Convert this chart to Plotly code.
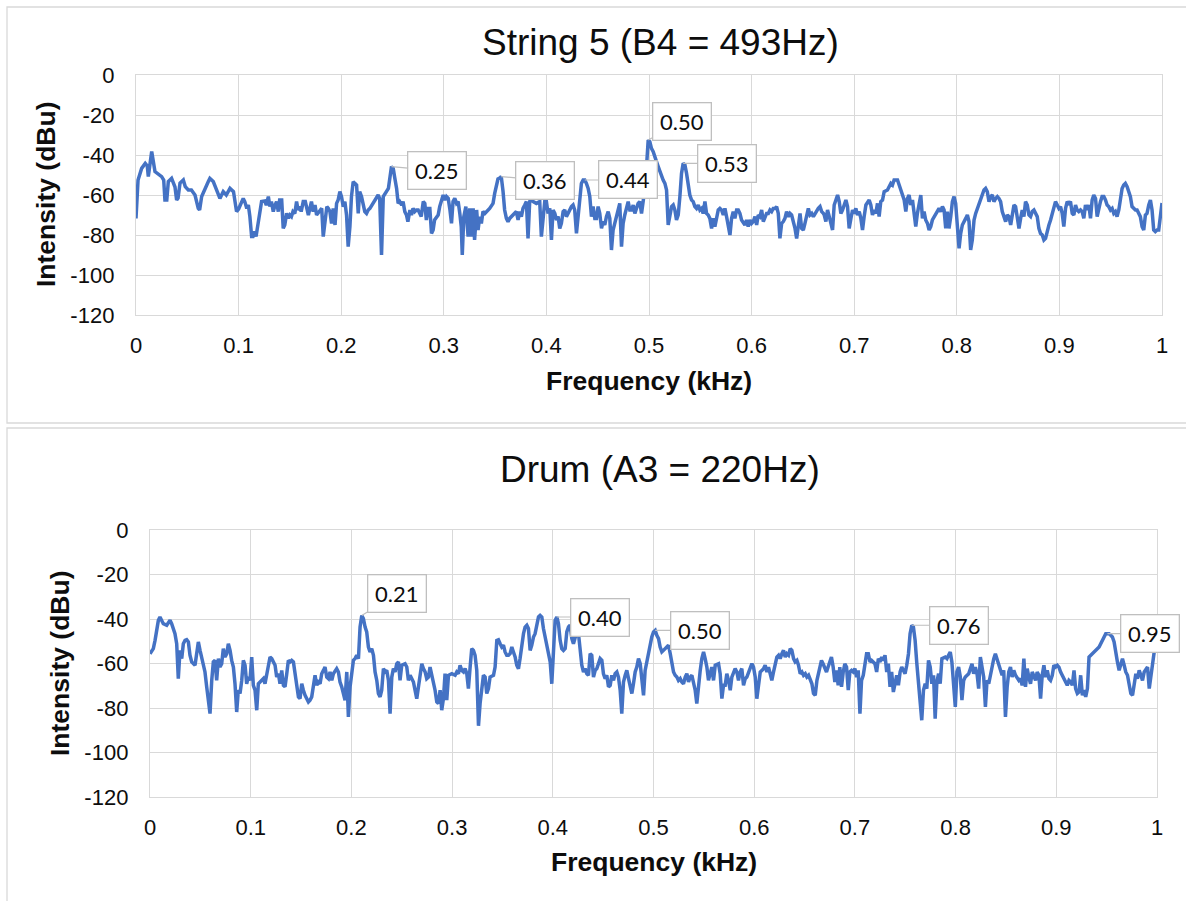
import plotly.graph_objects as go

# ---------------- String 5 spectrum (frequency in kHz, level in dBu) ----------------
string5_freq = [
    0.000, 0.002, 0.0055, 0.009, 0.011, 0.012, 0.0153, 0.0185, 0.025, 0.027,
    0.0282, 0.030, 0.0315, 0.0347, 0.038, 0.0396, 0.041, 0.0429, 0.0461, 0.048,
    0.051, 0.054, 0.0575, 0.0607, 0.062, 0.064, 0.0705, 0.072, 0.0753, 0.079,
    0.0818, 0.085, 0.088, 0.0916, 0.095, 0.098, 0.100, 0.1045, 0.106, 0.108,
    0.1095, 0.111, 0.1127, 0.114, 0.1155, 0.117, 0.1205, 0.1224, 0.1255, 0.127,
    0.129, 0.1305, 0.132, 0.1338, 0.1355, 0.137, 0.1387, 0.140, 0.142, 0.1435,
    0.145, 0.1468, 0.1485, 0.150, 0.1515, 0.153, 0.1548, 0.1565, 0.158, 0.160,
    0.161, 0.163, 0.165, 0.168, 0.1695, 0.171, 0.1727, 0.1745, 0.176, 0.1775,
    0.179, 0.181, 0.1825, 0.184, 0.186, 0.1875, 0.189, 0.1906, 0.1922, 0.194,
    0.1955, 0.197, 0.1987, 0.2003, 0.202, 0.2036, 0.2052, 0.2068, 0.2085, 0.210,
    0.2117, 0.2133, 0.215, 0.2166, 0.218, 0.2198, 0.2214, 0.223, 0.2247, 0.2263,
    0.228, 0.231, 0.2345, 0.236, 0.2375, 0.2393, 0.241, 0.2427, 0.246, 0.249,
    0.2507, 0.252, 0.254, 0.2555, 0.257, 0.259, 0.2603, 0.262, 0.2636, 0.265,
    0.267, 0.2685, 0.270, 0.2717, 0.2733, 0.275, 0.2766, 0.278, 0.280, 0.2815,
    0.283, 0.2847, 0.2864, 0.288, 0.2896, 0.291, 0.2945, 0.296, 0.2994, 0.301,
    0.3026, 0.3043, 0.306, 0.3075, 0.309, 0.3107, 0.3124, 0.314, 0.3156, 0.317,
    0.318, 0.3195, 0.3215, 0.3237, 0.3253, 0.327, 0.3286, 0.330, 0.332, 0.3334,
    0.335, 0.3366, 0.3382, 0.340, 0.3447, 0.348, 0.3496, 0.3512, 0.3528, 0.3545,
    0.356, 0.3577, 0.3593, 0.361, 0.3626, 0.3642, 0.3675, 0.3707, 0.3724, 0.374,
    0.3756, 0.3772, 0.3789, 0.3805, 0.3821, 0.3837, 0.3854, 0.387, 0.3902, 0.3935,
    0.3951, 0.3967, 0.3984, 0.400, 0.4016, 0.4033, 0.4049, 0.4065, 0.4082, 0.4098,
    0.4114, 0.413, 0.4146, 0.4163, 0.4179, 0.4195, 0.4211, 0.4228, 0.4244, 0.426,
    0.4276, 0.4293, 0.4309, 0.4325, 0.4341, 0.4358, 0.4374, 0.439, 0.4407, 0.4423,
    0.4439, 0.4455, 0.4472, 0.4488, 0.4504, 0.452, 0.4537, 0.4553, 0.4569, 0.4585,
    0.4602, 0.4618, 0.4634, 0.465, 0.4667, 0.4683, 0.4699, 0.4715, 0.4732, 0.4748,
    0.4764, 0.478, 0.4797, 0.4813, 0.483, 0.4846, 0.4862, 0.4878, 0.4894, 0.491,
    0.4927, 0.4943, 0.4959, 0.4976, 0.4992, 0.5008, 0.5024, 0.5041, 0.5057, 0.5073,
    0.509, 0.5106, 0.5122, 0.5138, 0.5155, 0.5171, 0.5187, 0.5203, 0.522, 0.5236,
    0.5252, 0.5268, 0.5285, 0.5301, 0.5317, 0.5333, 0.535, 0.5366, 0.5382, 0.5398,
    0.5415, 0.5431, 0.5447, 0.5463, 0.548, 0.5496, 0.5512, 0.5528, 0.5545, 0.5561,
    0.5577, 0.5593, 0.561, 0.5626, 0.5642, 0.5659, 0.5675, 0.5691, 0.5707, 0.5724,
    0.574, 0.5756, 0.5772, 0.5789, 0.5805, 0.5821, 0.5837, 0.5854, 0.587, 0.5886,
    0.5902, 0.5919, 0.5935, 0.5951, 0.5967, 0.5984, 0.600, 0.6016, 0.6033, 0.6049,
    0.6065, 0.6081, 0.6098, 0.6114, 0.613, 0.6146, 0.6163, 0.6179, 0.6195, 0.6211,
    0.6228, 0.6244, 0.626, 0.6276, 0.6293, 0.6309, 0.6325, 0.6341, 0.6358, 0.6374,
    0.639, 0.6407, 0.6423, 0.6439, 0.6455, 0.6472, 0.6488, 0.6504, 0.652, 0.6537,
    0.6553, 0.6569, 0.6586, 0.6602, 0.6618, 0.6634, 0.665, 0.6667, 0.6683, 0.6699,
    0.6708, 0.6724, 0.6740, 0.6757, 0.6789, 0.6805, 0.6838, 0.6854, 0.6870, 0.6886,
    0.6919, 0.6935, 0.6951, 0.6968, 0.6984, 0.7000, 0.7016, 0.7032, 0.7049, 0.7065,
    0.7081, 0.7097, 0.7114, 0.7146, 0.7162, 0.7178, 0.7195, 0.7211, 0.7227, 0.7243,
    0.7259, 0.7276, 0.7292, 0.7324, 0.7341, 0.7357, 0.7373, 0.7389, 0.7422, 0.7438,
    0.7454, 0.7470, 0.7487, 0.7503, 0.7519, 0.7535, 0.7551, 0.7568, 0.7584, 0.7600,
    0.7616, 0.7632, 0.7649, 0.7665, 0.7681, 0.7697, 0.7714, 0.7730, 0.7746, 0.7762,
    0.7795, 0.7827, 0.7843, 0.7860, 0.7876, 0.7892, 0.7908, 0.7924, 0.7941, 0.7957,
    0.7973, 0.7989, 0.8006, 0.8022, 0.8038, 0.8054, 0.8087, 0.8103, 0.8119, 0.8135,
    0.8151, 0.8168, 0.8184, 0.8216, 0.8249, 0.8265, 0.8281, 0.8297, 0.8314, 0.8330,
    0.8346, 0.8362, 0.8379, 0.8395, 0.8411, 0.8427, 0.8443, 0.8460, 0.8476, 0.8492,
    0.8508, 0.8525, 0.8541, 0.8557, 0.8573, 0.8589, 0.8606, 0.8622, 0.8638, 0.8654,
    0.8670, 0.8687, 0.8703, 0.8719, 0.8735, 0.8752, 0.8768, 0.8784, 0.8800, 0.8816,
    0.8833, 0.8849, 0.8865, 0.8881, 0.8898, 0.8914, 0.8930, 0.8946, 0.8962, 0.8979,
    0.8995, 0.9011, 0.9027, 0.9043, 0.9060, 0.9076, 0.9092, 0.9108, 0.9125, 0.9141,
    0.9157, 0.9173, 0.9189, 0.9206, 0.9222, 0.9238, 0.9254, 0.9271, 0.9287, 0.9303,
    0.9319, 0.9335, 0.9352, 0.9368, 0.9384, 0.9400, 0.9416, 0.9433, 0.9449, 0.9465,
    0.9481, 0.9498, 0.9514, 0.9530, 0.9546, 0.9562, 0.9579, 0.9595, 0.9611, 0.9627,
    0.9643, 0.9660, 0.9676, 0.9692, 0.9708, 0.9725, 0.9741, 0.9757, 0.9773, 0.9789,
    0.9806, 0.9822, 0.9838, 0.9854, 0.9871, 0.9887, 0.9903, 0.9919, 0.9935, 0.9952,
    0.9968, 0.9984, 1.0000,
]
string5_dbu = [
    -71.7, -52.5, -46.7, -44.2, -45.5, -50.8, -38.3, -48.3, -50.8, -52.5,
    -62.5, -62.5, -53.3, -51.7, -56.0, -62.5, -61.5, -54.0, -52.5, -55.8,
    -57.5, -57.5, -60.0, -66.7, -67.5, -60.8, -53.3, -51.7, -53.3, -57.5,
    -61.7, -58.3, -60.0, -56.7, -58.3, -68.3, -67.0, -61.7, -63.3, -66.7,
    -65.0, -70.8, -80.8, -80.8, -78.3, -80.8, -69.0, -63.3, -63.0, -65.0,
    -60.8, -65.8, -63.3, -68.3, -65.0, -63.3, -68.3, -62.5, -62.5, -76.7,
    -75.0, -69.2, -71.7, -70.0, -70.8, -68.3, -69.2, -63.3, -67.5, -65.8,
    -68.3, -63.3, -63.3, -70.0, -66.7, -63.3, -68.3, -65.0, -70.0, -69.2,
    -68.3, -66.7, -80.8, -72.5, -65.8, -66.7, -68.3, -74.2, -66.7, -75.0,
    -64.2, -62.5, -58.3, -60.8, -65.8, -63.3, -70.0, -85.8, -75.8, -60.8,
    -53.3, -54.2, -55.0, -69.2, -58.3, -60.8, -65.0, -68.3, -69.2, -67.5,
    -66.7, -64.2, -60.8, -60.0, -61.7, -90.0, -60.8, -59.2, -56.7, -45.8,
    -46.7, -50.8, -56.7, -64.2, -63.3, -65.0, -63.3, -68.3, -70.0, -73.3,
    -67.5, -70.0, -66.7, -68.3, -67.5, -67.5, -70.0, -70.8, -63.3, -64.2,
    -72.5, -66.7, -66.7, -79.2, -77.5, -72.5, -70.0, -65.8, -60.0, -62.5,
    -60.8, -61.7, -67.5, -74.2, -63.3, -61.7, -64.2, -63.3, -69.2, -75.8,
    -90.0, -70.8, -65.8, -80.8, -66.7, -80.8, -66.7, -82.5, -67.5, -77.5,
    -70.8, -74.2, -68.3, -69.2, -66.7, -64.2, -59.2, -55.0, -52.0, -51.5,
    -50.8, -58.0, -67.5, -71.7, -73.3, -71.7, -70.0, -68.3, -72.5, -68.3,
    -70.8, -66.7, -65.0, -63.3, -81.7, -63.3, -61.0, -63.3, -64.2, -63.3,
    -80.8, -72.5, -63.3, -63.3, -69.2, -66.7, -82.5, -67.5, -69.2, -72.5,
    -70.8, -76.7, -74.2, -68.3, -67.5, -70.8, -69.2, -66.7, -65.8, -65.0,
    -67.5, -79.2, -69.2, -59.2, -54.2, -52.5, -52.5, -54.2, -56.7, -60.8,
    -70.8, -65.8, -71.7, -71.7, -65.8, -69.2, -76.7, -73.3, -75.0, -70.8,
    -68.3, -71.7, -87.5, -77.5, -74.2, -70.8, -68.3, -64.2, -85.8, -74.2,
    -70.0, -66.7, -63.3, -67.5, -67.5, -65.0, -69.2, -66.7, -64.2, -63.3,
    -69.2, -63.3, -56.7, -45.8, -32.5, -33.3, -36.7, -38.3, -41.7, -43.3,
    -45.8, -48.3, -50.8, -52.5, -54.2, -57.5, -75.0, -70.0, -65.8, -65.0,
    -67.5, -72.5, -70.0, -60.8, -49.2, -44.2, -45.0, -49.2, -54.2, -60.0,
    -62.5, -63.3, -65.8, -66.7, -65.0, -67.5, -66.7, -69.2, -63.3, -69.2,
    -70.0, -71.7, -76.7, -71.7, -75.8, -70.8, -67.5, -66.7, -67.5, -70.0,
    -66.7, -70.8, -75.0, -80.0, -71.7, -68.3, -71.7, -67.5, -67.5, -69.2,
    -72.5, -74.2, -75.0, -72.5, -75.8, -72.5, -74.2, -73.3, -70.8, -75.0,
    -70.0, -70.8, -67.5, -73.3, -70.8, -69.2, -69.2, -67.5, -68.3, -66.7,
    -66.7, -65.8, -69.2, -81.7, -74.2, -73.3, -71.7, -68.3, -70.8, -69.2,
    -70.0, -73.3, -76.7, -81.7, -74.2, -69.2, -76.7, -77.5, -74.2, -69.2,
    -66.7, -70.0, -69.2, -70.8, -69.2, -68.3, -66.7, -65.8, -68.3, -69.2,
    -70.0, -73.3, -67.5, -70.8, -77.5, -65.0, -60.0, -63.3, -69.2, -67.5,
    -62.5, -65.8, -76.7, -71.7, -67.5, -69.2, -66.7, -70.0, -68.3, -71.7,
    -77.5, -70.8, -65.0, -62.5, -65.0, -70.0, -67.5, -69.2, -64.2, -70.8,
    -63.3, -62.5, -58.3, -57.5, -55.8, -54.2, -55.0, -52.5, -52.5, -55.0,
    -58.3, -60.8, -62.5, -68.3, -61.7, -60.0, -65.0, -62.5, -69.2, -75.8,
    -69.2, -63.3, -60.0, -71.7, -68.3, -72.5, -74.2, -77.5, -75.8, -72.5,
    -69.2, -66.7, -68.3, -65.8, -67.5, -76.7, -68.3, -76.7, -70.8, -63.3,
    -60.8, -64.2, -75.8, -86.7, -79.2, -75.0, -71.7, -70.0, -73.3, -87.5,
    -82.5, -72.5, -69.2, -64.2, -60.0, -57.5, -56.7, -58.3, -63.3, -60.8,
    -60.0, -63.3, -61.7, -60.8, -61.7, -63.3, -68.3, -70.8, -73.3, -70.0,
    -70.8, -75.0, -68.3, -65.0, -65.8, -70.0, -76.7, -71.7, -67.5, -70.8,
    -63.3, -65.0, -70.0, -70.8, -68.3, -67.5, -69.2, -70.8, -76.7, -79.2,
    -80.0, -82.5, -81.7, -77.5, -75.0, -72.5, -69.2, -65.0, -63.3, -65.0,
    -66.7, -65.8, -69.2, -75.8, -66.7, -63.3, -64.2, -63.3, -69.2, -70.0,
    -65.0, -67.5, -68.3, -67.5, -68.3, -71.7, -65.0, -67.5, -65.0, -71.7,
    -62.5, -60.0, -61.7, -70.8, -65.8, -63.3, -60.8, -60.8, -62.5, -65.0,
    -65.8, -67.5, -66.7, -69.2, -68.3, -70.8, -67.5, -61.7, -56.7, -55.0,
    -54.2, -55.8, -58.3, -60.8, -65.8, -66.7, -67.5, -67.5, -69.2, -70.8,
    -75.8, -77.5, -70.0, -69.2, -65.0, -62.5, -67.5, -77.5, -78.3, -77.5,
    -77.5, -69.2, -64.0,
]
string5_peaks = [0.249, 0.356, 0.4374, 0.4992, 0.5333]

# ---------------- Drum spectrum (frequency in kHz, level in dBu) ----------------
drum_freq = [
    0.0000, 0.0033, 0.0050, 0.0066, 0.0083, 0.0099, 0.0116, 0.0132, 0.0166, 0.0182,
    0.0199, 0.0215, 0.0232, 0.0248, 0.0265, 0.0281, 0.0298, 0.0315, 0.0331, 0.0348,
    0.0364, 0.0381, 0.0397, 0.0414, 0.0447, 0.0464, 0.0480, 0.0497, 0.0513, 0.0530,
    0.0546, 0.0563, 0.0579, 0.0596, 0.0613, 0.0629, 0.0646, 0.0662, 0.0679, 0.0695,
    0.0712, 0.0728, 0.0745, 0.0762, 0.0778, 0.0795, 0.0811, 0.0828, 0.0844, 0.0861,
    0.0877, 0.0894, 0.0911, 0.0927, 0.0944, 0.0960, 0.0977, 0.0993, 0.1010, 0.1026,
    0.1043, 0.1060, 0.1076, 0.1093, 0.1126, 0.1142, 0.1159, 0.1175, 0.1192, 0.1209,
    0.1242, 0.1258, 0.1275, 0.1291, 0.1308, 0.1325, 0.1341, 0.1358, 0.1374, 0.1391,
    0.1407, 0.1424, 0.1440, 0.1457, 0.1474, 0.1490, 0.1507, 0.1523, 0.1540, 0.1573,
    0.1589, 0.1606, 0.1623, 0.1639, 0.1656, 0.1672, 0.1689, 0.1705, 0.1722, 0.1738,
    0.1755, 0.1772, 0.1788, 0.1805, 0.1821, 0.1854, 0.1871, 0.1887, 0.1904, 0.1921,
    0.1937, 0.1954, 0.1970, 0.1987, 0.2003, 0.2020, 0.2036, 0.2053, 0.2070, 0.2086,
    0.2103, 0.2119, 0.2136, 0.2152, 0.2169, 0.2185, 0.2202, 0.2219, 0.2235, 0.2252,
    0.2268, 0.2285, 0.2301, 0.2318, 0.2334, 0.2351, 0.2368, 0.2384, 0.2401, 0.2417,
    0.2434, 0.2450, 0.2467, 0.2483, 0.2500, 0.2533, 0.2550, 0.2566, 0.2583, 0.2599,
    0.2616, 0.2632, 0.2649, 0.2666, 0.2682, 0.2699, 0.2715, 0.2732, 0.2748, 0.2765,
    0.2781, 0.2798, 0.2815, 0.2831, 0.2848, 0.2864, 0.2881, 0.2897, 0.2914, 0.2930,
    0.2947, 0.2964, 0.2997, 0.3030, 0.3046, 0.3063, 0.3079, 0.3096, 0.3113, 0.3129,
    0.3146, 0.3162, 0.3179, 0.3195, 0.3212, 0.3228, 0.3245, 0.3262, 0.3278, 0.3295,
    0.3311, 0.3328,
    0.3344, 0.3361, 0.3377, 0.3411, 0.3427, 0.3444, 0.3460, 0.3477, 0.3493, 0.3510,
    0.3526, 0.3543, 0.3560, 0.3576, 0.3593, 0.3609, 0.3626, 0.3642, 0.3659, 0.3675,
    0.3692, 0.3709, 0.3725, 0.3742, 0.3758, 0.3775, 0.3791, 0.3808, 0.3824, 0.3841,
    0.3858, 0.3874, 0.3891, 0.3907, 0.3924, 0.3940, 0.3957, 0.3974, 0.3990, 0.4007,
    0.4023, 0.4040, 0.4056, 0.4073, 0.4089, 0.4106, 0.4123, 0.4139, 0.4156, 0.4172,
    0.4189, 0.4205, 0.4222, 0.4238, 0.4255, 0.4272, 0.4288, 0.4305, 0.4321, 0.4338,
    0.4354, 0.4371, 0.4387, 0.4404, 0.4421, 0.4437, 0.4454, 0.4470, 0.4487, 0.4503,
    0.4520, 0.4536, 0.4553, 0.4570, 0.4586, 0.4603, 0.4619, 0.4636, 0.4652, 0.4669,
    0.4685, 0.4702, 0.4719, 0.4735, 0.4752, 0.4768, 0.4785, 0.4801, 0.4818, 0.4834,
    0.4851, 0.4868, 0.4884, 0.4901, 0.4917, 0.4934, 0.4950, 0.4967, 0.4983, 0.5000,
    0.5017, 0.5033, 0.5050, 0.5066, 0.5083, 0.5099, 0.5132, 0.5149, 0.5166, 0.5182,
    0.5199, 0.5215, 0.5232, 0.5248, 0.5265, 0.5281, 0.5298, 0.5315, 0.5331, 0.5348,
    0.5364, 0.5381, 0.5397, 0.5414, 0.5430, 0.5447, 0.5464, 0.5480, 0.5497, 0.5513,
    0.5530, 0.5546, 0.5563, 0.5579, 0.5596, 0.5613, 0.5646, 0.5662, 0.5679, 0.5695,
    0.5712, 0.5728, 0.5745, 0.5762, 0.5778, 0.5795, 0.5811, 0.5828, 0.5844, 0.5861,
    0.5877, 0.5894, 0.5911, 0.5927, 0.5944, 0.5960, 0.5977, 0.5993, 0.6010, 0.6026,
    0.6043, 0.6060, 0.6093, 0.6109, 0.6126, 0.6142, 0.6159, 0.6175, 0.6192, 0.6209,
    0.6225, 0.6242, 0.6258, 0.6275, 0.6291, 0.6308, 0.6324, 0.6341, 0.6358, 0.6374,
    0.6391, 0.6407, 0.6424, 0.6440, 0.6457, 0.6474, 0.6490, 0.6507, 0.6523, 0.6540,
    0.6556, 0.6573, 0.6589, 0.6606, 0.6623, 0.6639, 0.6656,
    0.6668, 0.6684, 0.6701, 0.6718, 0.6734, 0.6751, 0.6767, 0.6784, 0.6801, 0.6817,
    0.6834, 0.6850, 0.6867, 0.6884, 0.6900, 0.6917, 0.6934, 0.6950, 0.6967, 0.6983,
    0.7000, 0.7017, 0.7033, 0.7050, 0.7066, 0.7083, 0.7100, 0.7116, 0.7133, 0.7150,
    0.7166, 0.7183, 0.7199, 0.7216, 0.7233, 0.7249, 0.7266, 0.7282, 0.7299, 0.7316,
    0.7332, 0.7349, 0.7365, 0.7382, 0.7399, 0.7415, 0.7432, 0.7449, 0.7465, 0.7482,
    0.7498, 0.7515, 0.7532, 0.7548, 0.7565, 0.7581, 0.7598, 0.7615, 0.7631, 0.7648,
    0.7664, 0.7681, 0.7698, 0.7714, 0.7731, 0.7748, 0.7764, 0.7781, 0.7797, 0.7814,
    0.7831, 0.7847, 0.7864, 0.7897, 0.7914, 0.7930, 0.7947, 0.7963, 0.7980, 0.7997,
    0.8013, 0.8030, 0.8047, 0.8063, 0.8080, 0.8096, 0.8130, 0.8146, 0.8163, 0.8179,
    0.8196, 0.8213, 0.8229, 0.8246, 0.8262, 0.8279, 0.8296, 0.8312, 0.8329, 0.8346,
    0.8362, 0.8379, 0.8395, 0.8412, 0.8429, 0.8445, 0.8462, 0.8478, 0.8495, 0.8512,
    0.8528, 0.8545, 0.8561, 0.8578, 0.8595, 0.8628, 0.8644, 0.8661, 0.8678, 0.8694,
    0.8711, 0.8727, 0.8744, 0.8761, 0.8777, 0.8794, 0.8810, 0.8827, 0.8844, 0.8860,
    0.8877, 0.8893, 0.8910, 0.8927, 0.8943, 0.8960, 0.8976, 0.8993, 0.9010, 0.9026,
    0.9043, 0.9060, 0.9076, 0.9093, 0.9109, 0.9126, 0.9143, 0.9159, 0.9176, 0.9192,
    0.9209, 0.9226, 0.9242, 0.9259, 0.9275, 0.9292, 0.9309, 0.9325, 0.9342, 0.9358,
    0.9375, 0.9392, 0.9408, 0.9425, 0.9441, 0.9458, 0.9475, 0.9491, 0.9508, 0.9524,
    0.9541, 0.9557, 0.9574, 0.9591, 0.9607, 0.9624, 0.9640, 0.9657, 0.9674, 0.9690,
    0.9707, 0.9723, 0.9740, 0.9757, 0.9773, 0.9790, 0.9806, 0.9823, 0.9840, 0.9856,
    0.9873, 0.9889, 0.9906, 0.9923, 0.9939, 0.9956, 0.9972, 0.9989, 1.0000,
]
drum_dbu = [
    -55.6, -53.3, -49.6, -45.1, -40.6, -39.1, -40.6, -42.1, -42.8, -41.3,
    -40.6, -42.1, -44.3, -46.6, -51.1, -66.8, -54.1, -57.8, -51.1, -49.6,
    -49.3, -50.3, -56.3, -59.3, -60.8, -56.3, -50.3, -54.1, -57.8, -60.8,
    -63.8, -70.5, -76.5, -82.5, -67.6, -59.3, -58.6, -67.6, -57.8, -61.6,
    -60.1, -53.3, -57.1, -55.6, -51.1, -54.1, -58.6, -61.6, -69.1, -81.8,
    -72.0, -73.5, -67.6, -58.6, -60.8, -69.1, -66.1, -67.6, -57.1, -69.8,
    -72.0, -81.0, -69.1, -68.3, -66.8, -69.1, -65.3, -61.6, -57.1, -57.8,
    -60.8, -66.1, -64.6, -69.1, -63.1, -69.8, -70.5, -64.6, -58.6, -59.3,
    -58.6, -59.3, -64.6, -68.3, -75.0, -75.8, -69.1, -72.0, -74.3, -77.3,
    -76.5, -75.0, -70.5, -65.3, -69.8, -68.3, -69.1, -64.6, -63.1, -61.6,
    -66.1, -66.8, -63.8, -67.6, -64.6, -62.3, -63.8, -68.3, -70.5, -74.3,
    -76.5, -63.8, -84.0, -70.5, -63.1, -58.6, -57.8, -56.3, -57.8, -43.6,
    -38.4, -39.8, -43.6, -45.8, -52.6, -54.8, -53.3, -56.3, -63.8, -67.6,
    -73.5, -75.0, -72.0, -62.3, -63.8, -63.1, -67.6, -82.5, -66.1, -62.3,
    -63.8, -60.1, -59.3, -67.6, -60.8, -60.1, -61.6, -67.6, -65.3, -66.8,
    -68.3, -72.0, -75.8, -70.5, -63.8, -60.1, -62.3, -63.8, -66.8, -66.1,
    -61.6, -64.6, -67.6, -72.0, -77.3, -78.0, -72.0, -81.0, -75.8, -64.6,
    -76.5, -65.3, -64.6, -65.3, -63.8, -64.6, -60.8, -63.1, -63.8, -62.3,
    -64.6, -71.3, -61.6, -53.3, -54.1, -56.3, -63.1, -88.0, -78.0, -69.8,
    -65.3, -66.1,
    -73.5, -71.3, -66.1, -65.3, -61.6, -49.6, -49.3, -51.1, -52.6, -51.8,
    -54.8, -56.3, -56.3, -55.6, -52.6, -54.8, -57.1, -60.8, -62.3, -57.8,
    -51.1, -46.6, -43.6, -42.8, -44.3, -54.1, -51.8, -48.1, -46.6, -42.8,
    -39.1, -38.4, -39.1, -44.3, -48.1, -51.1, -56.3, -59.3, -69.1, -54.1,
    -40.6, -39.1, -42.1, -49.6, -53.3, -54.1, -53.3, -45.8, -43.6, -42.8,
    -48.8, -51.1, -48.8, -45.8, -46.6, -54.1, -60.8, -63.8, -62.3, -64.6,
    -65.3, -55.6, -56.3, -66.1, -63.1, -62.3, -59.3, -57.8, -58.6, -64.6,
    -66.8, -65.3, -70.5, -69.8, -65.3, -67.6, -64.6, -63.8, -66.1, -72.0,
    -82.5, -68.3, -65.3, -63.1, -66.8, -70.5, -73.5, -69.1, -63.8, -61.6,
    -57.8, -60.1, -67.6, -74.3, -63.1, -59.3, -56.3, -51.1, -48.1, -45.8,
    -45.1, -47.3, -48.8, -52.6, -54.8, -54.1, -52.6, -51.8, -55.6, -59.3,
    -63.8, -65.3, -66.1, -67.6, -66.8, -68.3, -69.1, -66.1, -64.6, -68.3,
    -66.1, -65.3, -68.3, -72.0, -78.0, -68.3, -63.1, -57.8, -54.8, -57.8,
    -61.6, -67.6, -63.8, -61.6, -67.6, -60.8, -60.1, -64.6, -75.8, -69.8,
    -69.8, -64.6, -67.6, -72.0, -66.1, -63.8, -62.3, -63.8, -67.6, -63.8,
    -62.3, -69.8, -66.8, -66.1, -63.8, -61.6, -60.1, -61.6, -66.1, -75.8,
    -69.1, -63.8, -62.3, -60.8, -63.8, -61.6, -64.6, -67.6, -63.8, -60.8,
    -57.1, -56.3, -57.8, -55.6, -54.1, -57.1, -55.6, -56.3, -53.3, -54.1,
    -57.8, -59.3, -58.6, -60.8, -64.6, -63.8, -65.3, -64.6, -66.1, -65.3,
    -67.6, -69.1, -73.5, -74.3, -67.6, -63.8, -60.8,
    -58.6, -60.1, -62.3, -63.8, -61.6, -59.3, -57.1, -61.6, -68.3, -63.1,
    -69.8, -61.6, -70.5, -63.8, -60.1, -61.6, -72.0, -63.8, -63.1, -63.8,
    -62.3, -66.1, -63.1, -82.5, -67.6, -65.3, -60.1, -55.6, -55.6, -59.3,
    -58.6, -59.3, -60.1, -63.8, -57.8, -59.3, -57.1, -58.6, -56.3, -63.8,
    -60.1, -70.5, -63.8, -72.8, -67.6, -65.3, -69.8, -63.8, -61.6, -63.1,
    -64.6, -60.8, -55.6, -46.6, -42.8, -43.6, -49.6, -60.1, -67.6, -74.3,
    -85.5, -72.0, -69.1, -71.3, -58.6, -61.6, -69.1, -65.3, -84.8, -68.3,
    -64.6, -69.1, -57.8, -57.1, -57.8, -56.3, -54.8, -59.3, -69.1, -79.5,
    -63.8, -61.6, -66.1, -76.5, -67.6, -66.1, -64.6, -62.3, -60.1, -64.6,
    -61.6, -64.6, -71.3, -57.1, -61.6, -66.1, -79.5, -67.6, -69.1, -64.6,
    -60.1, -57.8, -55.6, -57.8, -60.8, -63.1, -65.3, -63.1, -84.0, -70.5,
    -63.8, -61.6, -66.1, -63.1, -65.3, -67.6, -66.8, -69.8, -57.8, -70.5,
    -62.3, -66.1, -69.1, -63.8, -66.1, -67.6, -63.8, -65.3, -75.8, -65.3,
    -60.8, -66.1, -63.1, -66.8, -67.6, -65.3, -60.8, -61.6, -60.8, -61.6,
    -63.8, -65.3, -66.1, -68.3, -69.8, -67.6, -68.3, -69.8, -63.1, -71.3,
    -73.5, -72.8, -65.3, -74.3, -72.0, -75.0, -71.3, -57.1, -56.3, -55.6,
    -54.8, -54.1, -53.3, -52.6, -51.1, -49.6, -47.3, -46.6, -46.6, -46.6,
    -47.3, -48.1, -50.3, -55.6, -59.3, -63.1, -60.1, -57.8, -60.8, -63.8,
    -65.3, -69.1, -73.5, -74.3, -69.8, -64.6, -66.8, -63.1, -65.3, -67.6,
    -63.8, -62.3, -61.6, -71.3, -66.1, -58.6, -54.8, -53.3, -54.0,
]
drum_peaks = [0.2103, 0.4040, 0.5017, 0.7565, 0.9508]

freq_ticks = [0, 0.1, 0.2, 0.3, 0.4, 0.5, 0.6, 0.7, 0.8, 0.9, 1]
freq_tick_labels = ["0", "0.1", "0.2", "0.3", "0.4", "0.5", "0.6", "0.7", "0.8", "0.9", "1"]
level_ticks = [0, -20, -40, -60, -80, -100, -120]
level_tick_labels = ["0", "-20", "-40", "-60", "-80", "-100", "-120"]

titles = ["String 5 (B4 = 493Hz)", "Drum (A3 = 220Hz)"]
x_title = "Frequency (kHz)"
y_title = "Intensity (dBu)"

assert len(string5_freq) == len(string5_dbu)
assert len(drum_freq) == len(drum_dbu)

# ---------------- figure geometry (pixel -> paper) ----------------
W, H = 1186, 901


def px(x):
    return x / W


def py(y):
    return 1 - y / H


LINE = "#4472C4"
GRID = "#D9D9D9"
TXT = "#0D0D0D"
FONT = "Liberation Sans, Arial, sans-serif"
LABEL_FONT = "Lato, Calibri, sans-serif"

fig = go.Figure()
fig.add_trace(go.Scatter(x=string5_freq, y=string5_dbu, mode="lines",
                         line=dict(color=LINE, width=3.5), xaxis="x", yaxis="y",
                         hoverinfo="skip", showlegend=False))
fig.add_trace(go.Scatter(x=drum_freq, y=drum_dbu, mode="lines",
                         line=dict(color=LINE, width=3.5), xaxis="x2", yaxis="y2",
                         hoverinfo="skip", showlegend=False))

axis_common_x = dict(range=[0, 1], tickvals=freq_ticks, ticktext=freq_tick_labels,
                     showgrid=True, gridcolor=GRID, gridwidth=1.4, zeroline=False,
                     showline=True, linecolor=GRID, linewidth=1.4, mirror=True,
                     ticks="", ticklabelstandoff=10, automargin=False,
                     tickfont=dict(family=FONT, size=22, color=TXT), fixedrange=True)
axis_common_y = dict(range=[-120, 0], tickvals=level_ticks, ticktext=level_tick_labels,
                     showgrid=True, gridcolor=GRID, gridwidth=1.4, zeroline=False,
                     showline=True, linecolor=GRID, linewidth=1.4, mirror=True,
                     ticks="", ticklabelstandoff=16, automargin=False,
                     tickfont=dict(family=FONT, size=22, color=TXT), fixedrange=True)

fig.update_layout(
    template="none",
    width=W, height=H, autosize=False,
    margin=dict(l=0, r=0, t=0, b=0, pad=0, autoexpand=False),
    paper_bgcolor="white", plot_bgcolor="white",
    xaxis=dict(axis_common_x, domain=[px(136), px(1162)], anchor="y"),
    yaxis=dict(axis_common_y, domain=[py(315), py(75)], anchor="x"),
    xaxis2=dict(axis_common_x, domain=[px(150), px(1157)], anchor="y2"),
    yaxis2=dict(axis_common_y, domain=[py(797), py(530)], anchor="x2"),
)

# chart-area frames
fig.add_shape(type="rect", xref="paper", yref="paper",
              x0=px(7), x1=px(1200), y0=py(423), y1=py(7),
              line=dict(color=GRID, width=1.3), fillcolor="rgba(0,0,0,0)", layer="below")
fig.add_shape(type="rect", xref="paper", yref="paper",
              x0=px(7), x1=px(1200), y0=py(915), y1=py(428),
              line=dict(color=GRID, width=1.3), fillcolor="rgba(0,0,0,0)", layer="below")

annotations = []
# chart titles
for text, cx, cy in [(titles[0], 660, 43), (titles[1], 660, 469)]:
    annotations.append(dict(text=text, x=px(cx), y=py(cy), xref="paper", yref="paper",
                            xanchor="center", yanchor="middle", showarrow=False,
                            font=dict(family=FONT, size=37, color=TXT)))
# axis titles
for cx, cy in [(649, 381), (654, 862)]:
    annotations.append(dict(text=f"<b>{x_title}</b>", x=px(cx), y=py(cy),
                            xref="paper", yref="paper", xanchor="center", yanchor="middle",
                            showarrow=False, font=dict(family=FONT, size=26.5, color=TXT)))
for cx, cy in [(46, 194), (60, 663)]:
    annotations.append(dict(text=f"<b>{y_title}</b>", x=px(cx), y=py(cy),
                            xref="paper", yref="paper", xanchor="center", yanchor="middle",
                            textangle=-90, showarrow=False,
                            font=dict(family=FONT, size=26.5, color=TXT)))

# peak callouts: text is the peak frequency itself
callout_offsets = {
    "x": [(46, 4), (44, 4), (43, 0), (34, -18), (44, 0)],
    "x2": [(35, -22), (43, 0), (45, 0), (47, 0), (43, 0)],
}
for xref, yref, freqs, levels, peaks in [
    ("x", "y", string5_freq, string5_dbu, string5_peaks),
    ("x2", "y2", drum_freq, drum_dbu, drum_peaks),
]:
    for (ax, ay), f in zip(callout_offsets[xref], peaks):
        level = levels[freqs.index(f)]
        annotations.append(dict(
            text=f"{f:.2f}", x=f, y=level, xref=xref, yref=yref,
            showarrow=True, arrowhead=0, arrowwidth=1.2, arrowcolor="#BFBFBF",
            ax=ax, ay=ay, bgcolor="white", bordercolor="#BFBFBF", borderwidth=1.3,
            borderpad=5, width=47, height=26, align="center",
            font=dict(family=LABEL_FONT, size=22, color=TXT)))

fig.update_layout(annotations=annotations)
fig.write_html("out.html")
